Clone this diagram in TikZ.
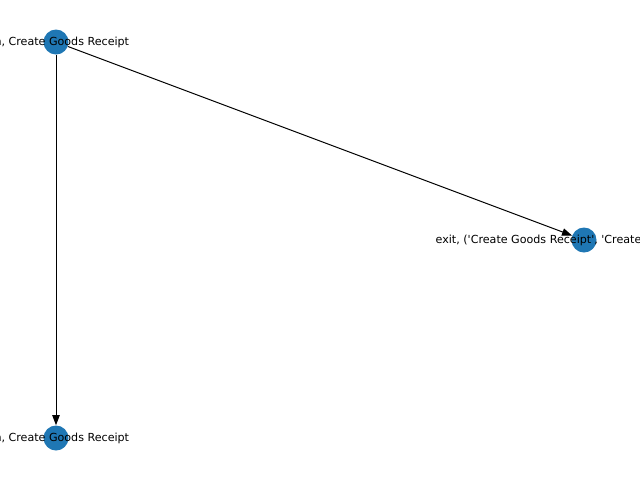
\documentclass[tikz,border=0pt]{standalone}
\usepackage{fontspec}
\setmainfont{DejaVu Sans}
\usetikzlibrary{arrows.meta}
\begin{document}
\begin{tikzpicture}[x=0.75pt,y=-0.75pt,
  vtx/.style={circle,fill={rgb,255:red,31;green,119;blue,180},draw=none,minimum size=18.75pt,inner sep=0pt},
  lbl/.style={inner sep=0pt,font=\fontsize{8.33pt}{10pt}\selectfont,text=black},
  edge/.style={draw=black,line width=0.75pt,-{Triangle[length=7.5pt,width=5.5pt]}}]
\useasboundingbox (0,0) rectangle (640,480);
\clip (0,0) rectangle (640,480);
\node[vtx] (a) at (56,42) {};
\node[vtx] (b) at (56,438) {};
\node[vtx] (c) at (584,240) {};
\draw[edge] (a) -- (b);
\draw[edge] (a) -- (c);
\node[lbl] (la) at (56,42) {run, Create Goods Receipt};
\node[lbl] (lb) at (56,438) {run, Create Goods Receipt};
\node[lbl] (lc) at (584,240) {exit, (\textquotesingle Create Goods Receipt\textquotesingle, \textquotesingle Create Goods Receipt\textquotesingle)};
\end{tikzpicture}
\end{document}
